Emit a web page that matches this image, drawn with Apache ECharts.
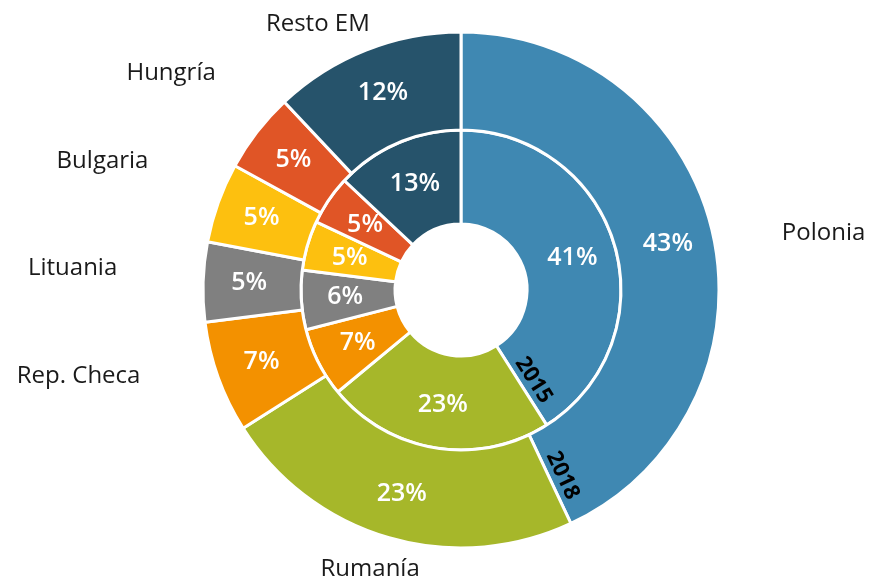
<!DOCTYPE html>
<html>
<head>
<meta charset="utf-8">
<script src="https://cdn.jsdelivr.net/npm/echarts@6/dist/echarts.min.js"></script>
<style>
  html, body { margin: 0; padding: 0; background: #ffffff; }
  #chart { width: 872px; height: 588px; }
</style>
</head>
<body>
<div id="chart"></div>
<script>
// Countries, clockwise from 12 o'clock
const categories = ['Polonia', 'Rumanía', 'Rep. Checa', 'Lituania', 'Bulgaria', 'Hungría', 'Resto EM'];
// Share of each country (%), inner ring = 2015, outer ring = 2018
const share2015 = [41, 23, 7, 6, 5, 5, 13];
const share2018 = [43, 23, 7, 5, 5, 5, 12];
const ringYears = ['2015', '2018'];

const palette = ['#3f88b2', '#a6b72a', '#f39100', '#808080', '#fdc00f', '#e05526', '#26536b'];

// Geometry
const CX = 461, CY = 290;
const R_HOLE = 66, R_MID = 160, R_OUT = 258;
const FONT = '"Open Sans", "Noto Sans", sans-serif';

// Placement of the country names: distance from the centre and a small
// angular shift (degrees) from the middle of the outer sector.
const namePlacement = [
  { dist: 367, shift: 3.7 },
  { dist: 294, shift: 1.8 },
  { dist: 392, shift: 7.1 },
  { dist: 389, shift: 1.4 },
  { dist: 381, shift: 0.0 },
  { dist: 362, shift: -1.0 },
  { dist: 302, shift: -6.7 }
];

function toData(values) {
  return values.map((v, i) => ({ name: categories[i], value: v, itemStyle: { color: palette[i] } }));
}

// angle (degrees, clockwise from 12 o'clock) -> screen point
function polar(deg, r) {
  const a = deg * Math.PI / 180;
  return [CX + r * Math.sin(a), CY - r * Math.cos(a)];
}

function midAngles(values) {
  const total = values.reduce((s, v) => s + v, 0);
  let acc = 0;
  return values.map(v => {
    const mid = (acc + v / 2) / total * 360;
    acc += v;
    return mid;
  });
}

const graphics = [];

// Country names around the outer ring
const mids = midAngles(share2018);
categories.forEach((name, i) => {
  const p = polar(mids[i] + namePlacement[i].shift, namePlacement[i].dist);
  graphics.push({
    type: 'text', x: p[0], y: p[1], z: 100,
    style: { text: name, font: '24px ' + FONT, fill: '#1a1a1a', align: 'center', verticalAlign: 'middle' }
  });
});

// Year tags laid along the boundary between the first two sectors of each ring,
// sitting on the side of the first sector
[[share2015, R_HOLE, R_MID], [share2018, R_MID, R_OUT]].forEach(([vals, r0, r1], k) => {
  const total = vals.reduce((s, v) => s + v, 0);
  const edge = vals[0] / total * 360;
  const a = edge * Math.PI / 180;
  const rm = (r0 + r1) / 2 + 2;
  const off = 13;
  graphics.push({
    type: 'text',
    z: 100,
    x: CX + rm * Math.sin(a) - off * Math.cos(a),
    y: CY - rm * Math.cos(a) - off * Math.sin(a),
    rotation: -(edge - 90) * Math.PI / 180,
    style: { text: ringYears[k], font: 'bold 22px ' + FONT, fill: '#000000', align: 'center', verticalAlign: 'middle' }
  });
});

const pctLabel = {
  show: true,
  position: 'inside',
  formatter: p => p.value + '%',
  color: '#ffffff',
  fontFamily: FONT,
  fontSize: 25,
  fontWeight: 600
};

const chart = echarts.init(document.getElementById('chart'), null, { renderer: 'canvas' });
chart.setOption({
  animation: false,
  backgroundColor: '#ffffff',
  series: [
    {
      name: ringYears[0],
      type: 'pie',
      center: [CX, CY],
      radius: [R_HOLE, R_MID],
      startAngle: 90,
      clockwise: true,
      label: pctLabel,
      labelLine: { show: false },
      itemStyle: { borderColor: '#ffffff', borderWidth: 3 },
      emphasis: { disabled: true },
      data: toData(share2015)
    },
    {
      name: ringYears[1],
      type: 'pie',
      center: [CX, CY],
      radius: [R_MID, R_OUT],
      startAngle: 90,
      clockwise: true,
      label: pctLabel,
      labelLine: { show: false },
      itemStyle: { borderColor: '#ffffff', borderWidth: 3 },
      emphasis: { disabled: true },
      data: toData(share2018)
    }
  ],
  graphic: { elements: graphics }
});
</script>
</body>
</html>
